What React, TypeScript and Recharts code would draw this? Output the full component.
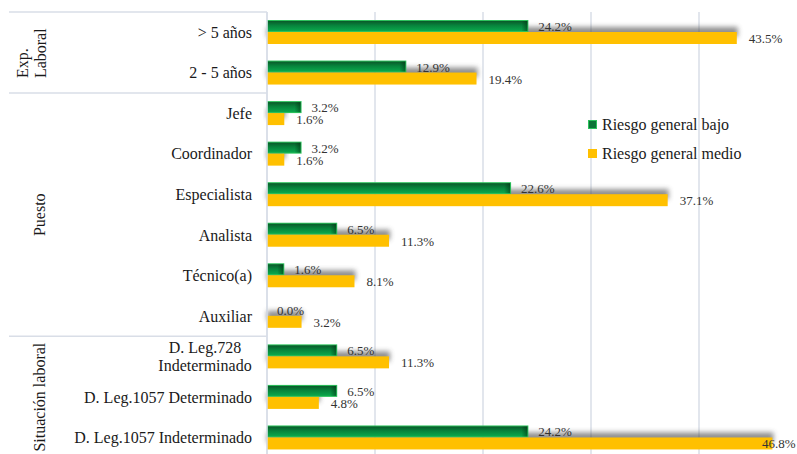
import React from 'react';
import { BarChart, Bar, XAxis, YAxis, CartesianGrid, LabelList, Legend } from 'recharts';

const categories = [
  '> 5 años',
  '2 - 5 años',
  'Jefe',
  'Coordinador',
  'Especialista',
  'Analista',
  'Técnico(a)',
  'Auxiliar',
  'D. Leg.728\nIndeterminado',
  'D. Leg.1057 Determinado',
  'D. Leg.1057 Indeterminado',
];
const riesgoBajo = [24.2, 12.9, 3.2, 3.2, 22.6, 6.5, 1.6, 0.0, 6.5, 6.5, 24.2];
const riesgoMedio = [43.5, 19.4, 1.6, 1.6, 37.1, 11.3, 8.1, 3.2, 11.3, 4.8, 46.8];
const groupNames = ['Exp.\nLaboral', 'Puesto', 'Situación laboral'];
const groupSizes = [2, 6, 3];
const seriesNames = ['Riesgo general bajo', 'Riesgo general medio'];
const xTicks = [0, 10, 20, 30, 40, 50];

const data = categories.map((c, i) => ({ cat: c, bajo: riesgoBajo[i], medio: riesgoMedio[i] }));

const groupStarts: number[] = [];
groupSizes.reduce((acc, s) => {
  groupStarts.push(acc);
  return acc + s;
}, 0);

const FONT = 'Liberation Serif, DejaVu Serif, serif';
const GRID = '#d9dee7';
const YELLOW = '#ffc000';
const W = 820;
const H = 470;
const MARGIN = { top: 12, right: 13, bottom: 12, left: 0 };
const PAGE_W = 797;

const CategoryTick = (props: any) => {
  const { x, y, payload } = props;
  const idx = categories.indexOf(payload.value);
  const half = typeof payload.offset === 'number' && payload.offset > 0 ? payload.offset : 20.27;
  const lines = String(payload.value).split('\n');
  const axisX = x + 15;
  const gi = groupStarts.indexOf(idx);
  const els: any[] = [];
  if (lines.length === 1) {
    els.push(
      <text key="t" x={x} y={y} textAnchor="end" dominantBaseline="central" fontSize={16} style={{ fontFamily: FONT }} fill="#1a1a1a">
        {lines[0]}
      </text>
    );
  } else {
    lines.forEach((l, k) => {
      els.push(
        <text key={'t' + k} x={x - 47} y={y + (k - (lines.length - 1) / 2) * 18} textAnchor="middle" dominantBaseline="central" fontSize={16} style={{ fontFamily: FONT }} fill="#1a1a1a">
          {l}
        </text>
      );
    });
  }
  if (gi >= 0) {
    const top = y - half;
    els.push(<line key="sep" x1={9} x2={axisX} y1={top} y2={top} stroke={GRID} strokeWidth={1.5} />);
    const cy = top + groupSizes[gi] * half;
    const gl = groupNames[gi].split('\n');
    if (gl.length === 1) {
      els.push(
        <text key="g" x={40} y={cy} transform={`rotate(-90, 40, ${cy})`} textAnchor="middle" dominantBaseline="central" fontSize={16} style={{ fontFamily: FONT }} fill="#1a1a1a">
          {gl[0]}
        </text>
      );
    } else {
      const maxLen = Math.max(...gl.map((s) => s.length));
      const start = cy + (maxLen * 7.3) / 2;
      gl.forEach((l, k) => {
        const gx = 23 + k * 17.5;
        els.push(
          <text key={'g' + k} x={gx} y={start} transform={`rotate(-90, ${gx}, ${start})`} textAnchor="start" dominantBaseline="central" fontSize={16} style={{ fontFamily: FONT }} fill="#1a1a1a">
            {l}
          </text>
        );
      });
    }
  }
  return <g>{els}</g>;
};

const GreenBar = (p: any) => {
  const { x, y, width, height } = p;
  if (!width || width <= 0) return <g />;
  const edge = Math.min(6, Math.max(0, width - 2));
  return (
    <g>
      <rect x={x} y={y} width={width} height={height} fill="#2cc25c" />
      <rect x={x + 1} y={y + 1} width={Math.max(0, width - 2)} height={height - 2} fill="url(#greenGrad)" />
      <rect x={x + width - 1 - edge} y={y + 1} width={edge} height={height - 2} fill="url(#greenEdge)" />
    </g>
  );
};

const YellowBar = (p: any) => {
  const { x, y, width, height } = p;
  if (!width || width <= 0) return <g />;
  return <rect x={x} y={y} width={width} height={height} fill={YELLOW} />;
};

const ShadowBar = (p: any) => {
  const { x, y, width, height } = p;
  if (!width || width <= 0) return <g />;
  return <rect x={x} y={y - 5} width={width + 1} height={height - 2} fill="#444" opacity={0.6} filter="url(#blurShadow)" />;
};

const NullBar = () => <g />;

const makeLabel = (offset: number) => (p: any) => {
  const { x, y, width, height, value } = p;
  const txt = `${Number(value).toFixed(1)}%`;
  let tx = Number(x) + Number(width) + offset;
  const w = 35;
  if (tx + w > PAGE_W) tx = PAGE_W - w;
  return (
    <text x={tx} y={Number(y) + Number(height) / 2 + 0.5} dominantBaseline="central" fontSize={13} style={{ fontFamily: FONT }} fill="#333">
      {txt}
    </text>
  );
};

const LegendContent = () => (
  <div style={{ fontFamily: FONT, fontSize: 16, color: '#1a1a1a' }}>
    {seriesNames.map((n, i) => (
      <div key={n} style={{ display: 'flex', alignItems: 'center', height: 29, whiteSpace: 'nowrap' }}>
        <span
          style={{
            display: 'inline-block',
            width: i === 0 ? 7 : 9,
            height: i === 0 ? 7 : 9,
            background: i === 0 ? '#0b7436' : YELLOW,
            border: i === 0 ? '1px solid #2cc25c' : 'none',
            marginRight: 5,
          }}
        />
        {n}
      </div>
    ))}
  </div>
);

const commonAxes = (withTicks: boolean) => [
  <XAxis key="x" type="number" domain={[0, 50]} ticks={xTicks} hide />,
  <YAxis
    key="y"
    type="category"
    dataKey="cat"
    width={267}
    tickSize={0}
    tickMargin={15}
    axisLine={withTicks ? { stroke: GRID, strokeWidth: 1.5 } : false}
    tickLine={false}
    tick={withTicks ? <CategoryTick /> : false}
    interval={0}
  />,
];

export default function App() {
  return (
    <div style={{ position: 'absolute', left: 0, top: 0, width: PAGE_W, height: 454, overflow: 'hidden', background: '#fff', fontFamily: FONT }}>
      <svg width={0} height={0} style={{ position: 'absolute' }}>
        <defs>
          <linearGradient id="greenGrad" x1="0" y1="0" x2="0" y2="1">
            <stop offset="0%" stopColor="#0a5a2a" />
            <stop offset="45%" stopColor="#07843c" />
            <stop offset="100%" stopColor="#0aa84c" />
          </linearGradient>
          <linearGradient id="greenEdge" x1="0" y1="0" x2="1" y2="0">
            <stop offset="0%" stopColor="#003010" stopOpacity={0} />
            <stop offset="100%" stopColor="#003010" stopOpacity={0.55} />
          </linearGradient>
          <filter id="blurShadow" x="-20%" y="-100%" width="140%" height="300%">
            <feGaussianBlur stdDeviation="2.5" />
          </filter>
        </defs>
      </svg>
      <div style={{ position: 'absolute', left: 0, top: 0 }}>
        <BarChart width={W} height={H} data={data} layout="vertical" margin={MARGIN} barSize={12} barGap={0}>
          <CartesianGrid horizontal={false} stroke={GRID} strokeWidth={1.5} />
          {commonAxes(false)}
          <Bar dataKey="bajo" shape={<NullBar />} isAnimationActive={false} />
          <Bar dataKey="medio" shape={<ShadowBar />} isAnimationActive={false} />
        </BarChart>
      </div>
      <div style={{ position: 'absolute', left: 0, top: 0 }}>
        <BarChart width={W} height={H} data={data} layout="vertical" margin={MARGIN} barSize={12} barGap={0}>
          {commonAxes(true)}
          <Legend
            layout="vertical"
            align="center"
            verticalAlign="middle"
            content={<LegendContent />}
            wrapperStyle={{ position: 'absolute', left: 588, top: 110, width: 200 }}
          />
          <Bar dataKey="bajo" name={seriesNames[0]} fill="#078a3e" shape={<GreenBar />} isAnimationActive={false}>
            <LabelList dataKey="bajo" content={makeLabel(10)} />
          </Bar>
          <Bar dataKey="medio" name={seriesNames[1]} fill={YELLOW} shape={<YellowBar />} isAnimationActive={false}>
            <LabelList dataKey="medio" content={makeLabel(12)} />
          </Bar>
        </BarChart>
      </div>
    </div>
  );
}
